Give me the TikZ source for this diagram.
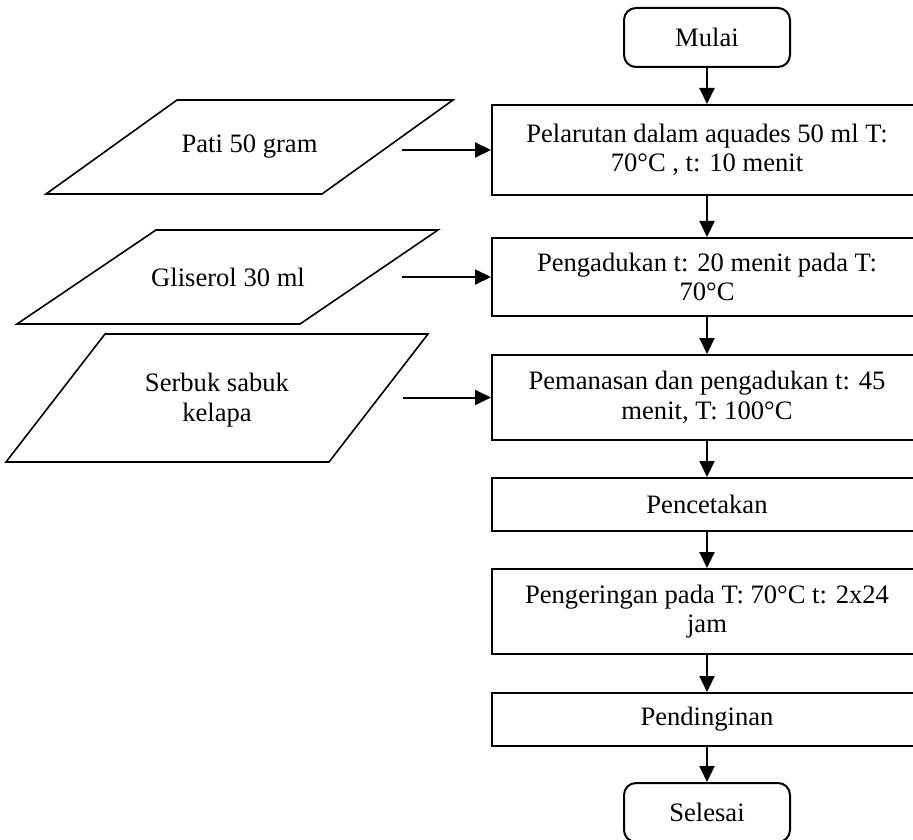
\documentclass[tikz,border=0pt]{standalone}
\usepackage{fontspec}
\setmainfont{Liberation Serif}
\usetikzlibrary{arrows.meta}

\begin{document}
\begin{tikzpicture}[x=0.5pt,y=-0.5pt,
  every node/.style={font=\fontsize{13.3}{14.8}\selectfont},
  proses/.style={draw, line width=1pt, minimum width=215pt, align=center, inner sep=0pt},
  terminal/.style={draw, line width=1pt, rounded corners=6pt, minimum width=83pt, minimum height=29.5pt},
  bahan/.style={draw, line width=0.8pt},
  panah/.style={line width=1pt, -{Triangle[length=8pt,width=7.5pt]}}]
\useasboundingbox (0,0) rectangle (913,839);
\clip (0,0) rectangle (913,839);
% Alur proses utama
\node[terminal] (mulai) at (707,37.5) {Mulai};
\node[proses, minimum height=45pt] (larut) at (707,150) {Pelarutan dalam aquades 50 ml T:\\70°C , t: 10 menit};
\node[proses, minimum height=39pt] (aduk) at (707,277) {Pengadukan t: 20 menit pada T:\\70°C};
\node[proses, minimum height=42.5pt] (panas) at (707,397.5) {Pemanasan dan pengadukan t: 45\\menit, T: 100°C};
\node[proses, minimum height=26.5pt] (cetak) at (707,504.5) {Pencetakan};
\node[proses, minimum height=42.5pt] (kering) at (707,611.5) {Pengeringan pada T: 70°C t: 2x24\\jam};
\node[proses, minimum height=26.5pt] (dingin) at (707,719.5) {Pendinginan};
\node[terminal] (selesai) at (707,812.5) {Selesai};
\draw[panah] (mulai) -- (larut);
\draw[panah] (larut) -- (aduk);
\draw[panah] (aduk) -- (panas);
\draw[panah] (panas) -- (cetak);
\draw[panah] (cetak) -- (kering);
\draw[panah] (kering) -- (dingin);
\draw[panah] (dingin) -- (selesai);
% Bahan masukan
\draw[bahan] (177,100) -- (453,100) -- (322,194) -- (46,194) -- cycle;
\node (pati) at (249.5,147) {Pati 50 gram};
\draw[bahan] (156,230) -- (438,230) -- (300,324) -- (17,324) -- cycle;
\node (gliserol) at (228,277) {Gliserol 30 ml};
\draw[bahan] (105,334) -- (428,334) -- (329,462) -- (6,462) -- cycle;
\node[align=center] (sabuk) at (217,400) {Serbuk sabuk\\kelapa};
\coordinate (pati-out) at (402,150);
\coordinate (gliserol-out) at (402,277);
\coordinate (sabuk-out) at (403,397.5);
\draw[panah] (pati-out) -- (larut);
\draw[panah] (gliserol-out) -- (aduk);
\draw[panah] (sabuk-out) -- (panas);
\end{tikzpicture}
\end{document}
